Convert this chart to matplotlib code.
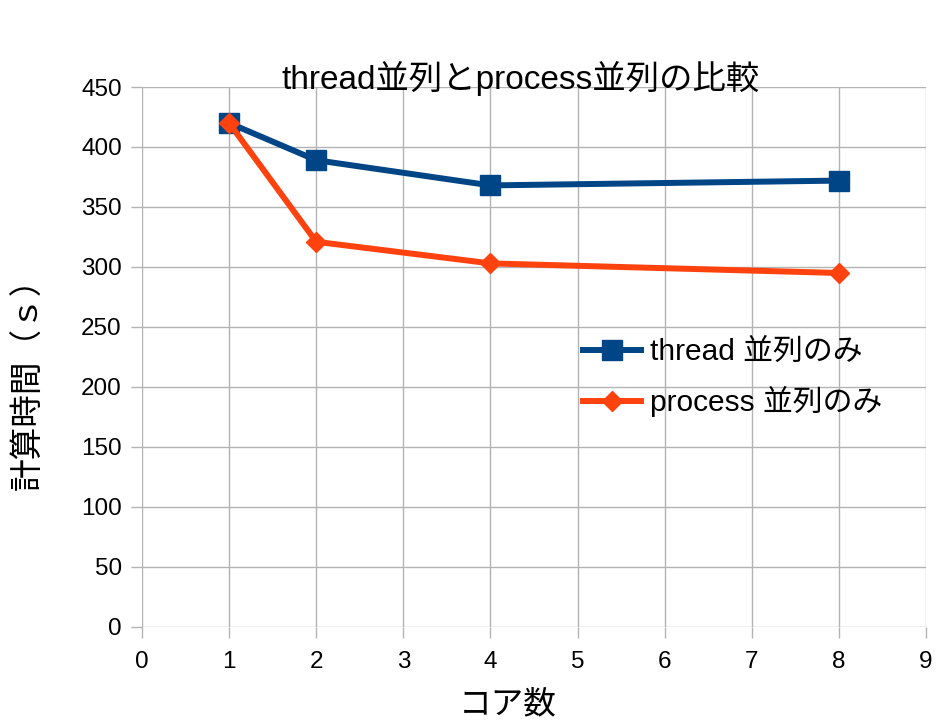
import matplotlib
matplotlib.use('Agg')
import matplotlib.pyplot as plt

plt.rcParams['font.family'] = ['Liberation Sans', 'Noto Sans CJK JP', 'DejaVu Sans']

# data
cores = [1, 2, 4, 8]
thread_time = [420, 389, 368, 372]
process_time = [420, 321, 303, 295]
xticks = list(range(0, 10))
yticks = list(range(0, 451, 50))

fig = plt.figure(figsize=(9.36, 7.22), dpi=100)
ax = fig.add_axes([0.1517, 0.1316, 0.8376, 0.7479])

ax.plot(cores, thread_time, color='#004586', lw=4.3, marker='s', ms=14,
        label='thread 並列のみ', zorder=3)
ax.plot(cores, process_time, color='#ff420e', lw=4.3, marker='D', ms=10,
        label='process 並列のみ', zorder=3)

ax.set_xlim(0, 9)
ax.set_ylim(0, 450)
ax.set_xticks(xticks)
ax.set_yticks(yticks)
ax.grid(True, color='#b3b3b3', lw=1)
for s in ax.spines.values():
    s.set_visible(False)
ax.tick_params(axis='both', labelsize=17.5, color='#b3b3b3', length=8, width=1)
ax.tick_params(axis='x', pad=9)
ax.tick_params(axis='y', pad=6.5)

ax.set_title('thread並列とprocess並列の比較', fontsize=24, pad=-1.5, x=0.483, y=1.0)
ax.set_xlabel('コア数', fontsize=23.5, labelpad=12, x=0.467)
ax.set_ylabel('計算時間（ｓ）', fontsize=23.5, labelpad=26, y=0.465)

leg = ax.legend(loc='upper left', bbox_to_anchor=(0.562, 0.535), frameon=False,
                fontsize=21.5, handlelength=1.95, handletextpad=0.3,
                labelspacing=0.67, borderaxespad=0, borderpad=0)

fig.savefig('out.png', dpi=100)
